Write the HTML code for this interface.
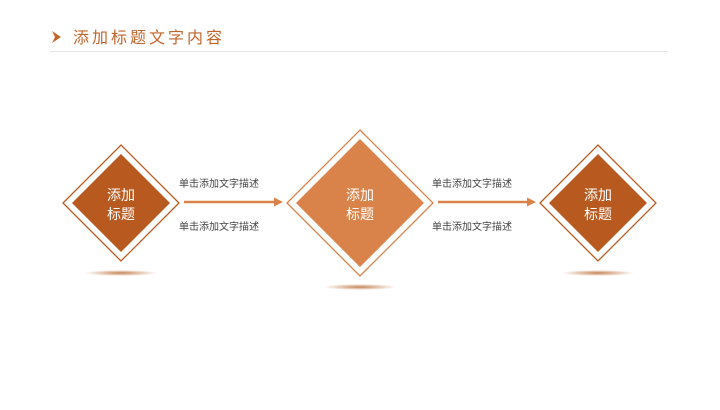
<!DOCTYPE html>
<html><head><meta charset="utf-8"><style>
body{margin:0;width:720px;height:405px;background:#fff;overflow:hidden;font-family:"Liberation Sans","Noto Sans CJK SC",sans-serif}
</style></head><body>
<svg width="720" height="405" xmlns="http://www.w3.org/2000/svg" font-family="Liberation Sans, Noto Sans CJK SC, sans-serif">
<defs>
<radialGradient id="sh" cx="50%" cy="50%" r="50%">
<stop offset="0" stop-color="#b8652a" stop-opacity="0.8"/>
<stop offset="1" stop-color="#b8652a" stop-opacity="0"/>
</radialGradient>
</defs>
<polygon points="52,31 61,37 52,43 55,37" fill="#C0652B"/>
<text x="73" y="43" font-size="16" fill="#C0652B" letter-spacing="3">添加标题文字内容</text>
<line x1="50" y1="51.5" x2="668" y2="51.5" stroke="#e6e6e6" stroke-width="1"/>

<ellipse cx="121" cy="273" rx="36" ry="3" fill="url(#sh)"/>
<ellipse cx="360" cy="287" rx="36" ry="3" fill="url(#sh)"/>
<ellipse cx="598" cy="273" rx="36" ry="3" fill="url(#sh)"/>

<polygon points="121,145 179,203 121,261 63,203" fill="#fff" stroke="#B85A20" stroke-width="1.3"/>
<polygon points="121,154 170,203 121,252 72,203" fill="#B85A20"/>
<text x="121" y="200" font-size="14" fill="#fff" text-anchor="middle">添加</text>
<text x="121" y="219" font-size="14" fill="#fff" text-anchor="middle">标题</text>

<polygon points="360,130 433,203 360,276 287,203" fill="#fff" stroke="#D9834A" stroke-width="1.3"/>
<polygon points="360,139 424,203 360,267 296,203" fill="#D9834A"/>
<text x="360" y="200" font-size="14" fill="#fff" text-anchor="middle">添加</text>
<text x="360" y="219" font-size="14" fill="#fff" text-anchor="middle">标题</text>

<polygon points="598,145 656,203 598,261 540,203" fill="#fff" stroke="#B85A20" stroke-width="1.3"/>
<polygon points="598,154 647,203 598,252 549,203" fill="#B85A20"/>
<text x="598" y="200" font-size="14" fill="#fff" text-anchor="middle">添加</text>
<text x="598" y="219" font-size="14" fill="#fff" text-anchor="middle">标题</text>

<line x1="184" y1="202" x2="275" y2="202" stroke="#D9834A" stroke-width="2.5"/>
<polygon points="274,197.5 283,202 274,206.5" fill="#D9834A"/>
<line x1="438" y1="202" x2="528" y2="202" stroke="#D9834A" stroke-width="2.5"/>
<polygon points="527,197.5 536,202 527,206.5" fill="#D9834A"/>

<text x="179" y="187" font-size="10" fill="#444">单击添加文字描述</text>
<text x="179" y="230" font-size="10" fill="#444">单击添加文字描述</text>
<text x="432" y="187" font-size="10" fill="#444">单击添加文字描述</text>
<text x="432" y="230" font-size="10" fill="#444">单击添加文字描述</text>
</svg>
</body></html>
